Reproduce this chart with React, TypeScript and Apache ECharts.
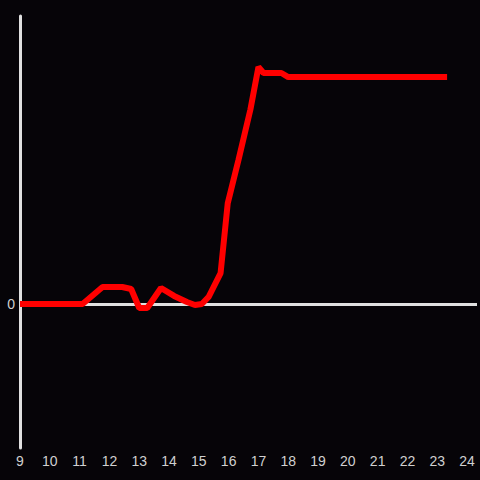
import React, { useEffect, useRef } from "react";
import * as echarts from "echarts";

const hours: number[] = [
  9, 11.1, 11.77, 12.43, 12.73, 13.0, 13.27, 13.73, 14.17, 14.6, 14.87, 15.1, 15.33,
  15.73, 15.97, 16.33, 16.73, 17.0, 17.17, 17.77, 18.0, 23.33,
];
const values: number[] = [
  0, 0, 11.8, 11.8, 10.4, -2.8, -2.8, 11.1, 5.6, 1.4, -0.7, 0, 4.9,
  21.5, 70, 100, 135, 164.6, 160.4, 160.4, 157.6, 157.6,
];
const xTickLabels: number[] = [9, 10, 11, 12, 13, 14, 15, 16, 17, 18, 19, 20, 21, 22, 23, 24];

export default function App() {
  const ref = useRef<HTMLDivElement>(null);
  useEffect(() => {
    if (!ref.current) return;
    document.body.style.margin = "0";
    const chart = echarts.init(ref.current, null, { renderer: "svg" });
    const data = hours.map((h, i) => [h, values[i]]);
    chart.setOption({
      animation: false,
      backgroundColor: "#060408",
      grid: { left: 20, top: 16, width: 460, height: 432, containLabel: false },
      xAxis: {
        type: "value",
        min: 9,
        max: 24 + 1 / 3,
        interval: 1,
        axisLine: { show: false },
        axisTick: { show: false },
        splitLine: { show: false },
        axisLabel: {
          color: "#d0d0d0",
          fontSize: 14,
          fontFamily: "Liberation Sans, Arial, sans-serif",
          margin: 6,
          showMaxLabel: true,
          formatter: (v: number) =>
            xTickLabels.includes(Math.round(v * 1000) / 1000) ? String(Math.round(v)) : "",
        },
      },
      yAxis: {
        type: "value",
        min: -100,
        max: 200,
        interval: 100,
        axisLine: { show: true, onZero: false, lineStyle: { color: "#e0e0e0", width: 3 } },
        axisTick: { show: false },
        splitLine: { show: false },
        axisLabel: {
          color: "#d0d0d0",
          fontSize: 14,
          fontFamily: "Liberation Sans, Arial, sans-serif",
          margin: 5,
          formatter: (v: number) => (v === 0 ? "0" : ""),
        },
      },
      series: [
        {
          type: "line",
          data: [],
          z: 1,
          markLine: {
            silent: true,
            symbol: "none",
            label: { show: false },
            lineStyle: { color: "#e0e0e0", width: 3, type: "solid" },
            data: [{ yAxis: 0 }],
          },
        },
        {
          type: "line",
          data,
          z: 10,
          showSymbol: false,
          symbol: "none",
          lineStyle: { color: "#ff0000", width: 6 },
        },
      ],
    });
    return () => chart.dispose();
  }, []);
  return (
    <div
      ref={ref}
      style={{ position: "fixed", left: 0, top: 0, width: 480, height: 480 }}
    />
  );
}
